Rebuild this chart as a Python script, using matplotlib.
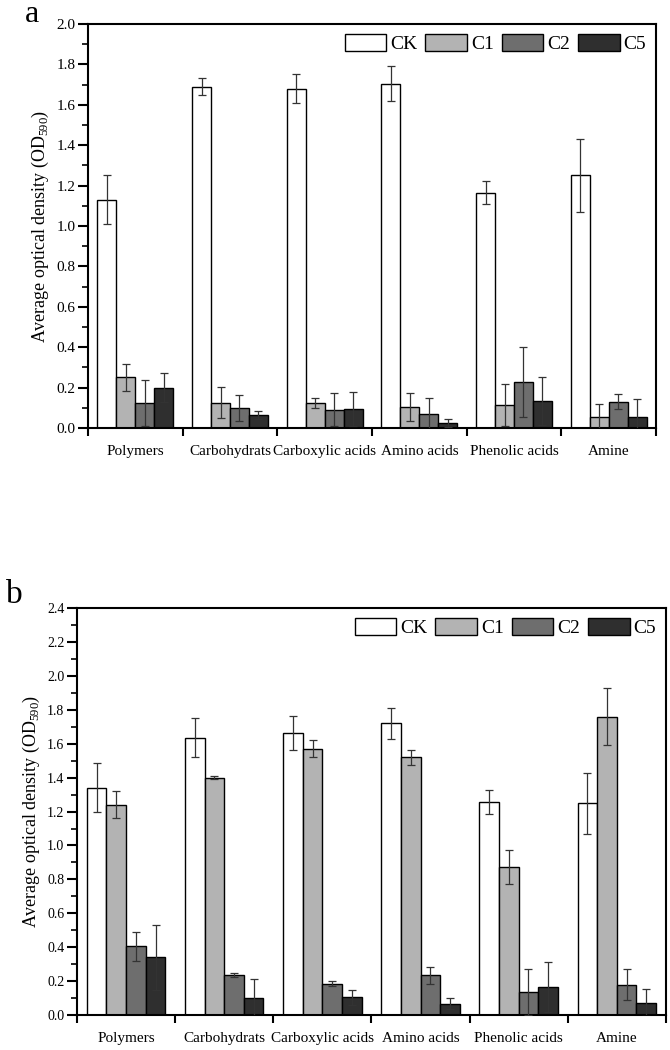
import numpy as np
import matplotlib
matplotlib.use("Agg")
import matplotlib.pyplot as plt
from matplotlib.ticker import MultipleLocator, FixedLocator, NullFormatter

plt.rcParams['font.family'] = ['Liberation Serif', 'DejaVu Serif']
plt.rcParams['mathtext.fontset'] = 'custom'
plt.rcParams['mathtext.rm'] = 'Liberation Serif'

categories = ["Polymers", "Carbohydrats", "Carboxylic acids", "Amino acids", "Phenolic acids", "Amine"]
treatments = ["CK", "C1", "C2", "C5"]
colors = ["#ffffff", "#b3b3b3", "#6e6e6e", "#2f2f2f"]

# panel a: means and errors
a_CK = [1.13, 1.69, 1.68, 1.705, 1.165, 1.25]
a_C1 = [0.25, 0.125, 0.125, 0.105, 0.115, 0.055]
a_C2 = [0.125, 0.10, 0.09, 0.07, 0.228, 0.13]
a_C5 = [0.20, 0.065, 0.095, 0.025, 0.133, 0.055]
a_CK_err = [0.12, 0.04, 0.07, 0.085, 0.058, 0.18]
a_C1_err = [0.068, 0.078, 0.025, 0.07, 0.105, 0.063]
a_C2_err = [0.113, 0.063, 0.082, 0.08, 0.172, 0.038]
a_C5_err = [0.07, 0.02, 0.085, 0.02, 0.12, 0.088]

# panel b
b_CK = [1.34, 1.635, 1.665, 1.72, 1.255, 1.25]
b_C1 = [1.24, 1.40, 1.57, 1.52, 0.875, 1.76]
b_C2 = [0.405, 0.235, 0.185, 0.235, 0.135, 0.18]
b_C5 = [0.34, 0.10, 0.105, 0.068, 0.165, 0.073]
b_CK_err = [0.145, 0.115, 0.10, 0.09, 0.07, 0.18]
b_C1_err = [0.08, 0.01, 0.05, 0.045, 0.10, 0.17]
b_C2_err = [0.085, 0.01, 0.015, 0.05, 0.135, 0.09]
b_C5_err = [0.19, 0.115, 0.045, 0.035, 0.145, 0.078]


def draw_panel(ax, vals, errs, ymax, ticksize):
    x = np.arange(len(categories))
    width = 0.2
    for j, (v, e) in enumerate(zip(vals, errs)):
        ax.bar(x - 0.3 + j * width, v, width, color=colors[j], edgecolor="black",
               linewidth=1.0, label=treatments[j], zorder=2)
        ax.errorbar(x - 0.3 + j * width, v, yerr=e, fmt="none", ecolor="#333333",
                    elinewidth=0.9, capsize=3.2, capthick=0.9, zorder=3)
    ax.set_xlim(-0.5, len(categories) - 0.5)
    ax.set_ylim(0, ymax)
    ax.yaxis.set_major_locator(MultipleLocator(0.2))
    ax.yaxis.set_minor_locator(MultipleLocator(0.1))
    ax.yaxis.set_major_formatter(matplotlib.ticker.FormatStrFormatter("%.1f"))
    ax.xaxis.set_major_locator(FixedLocator(np.arange(-0.5, len(categories), 1.0)))
    ax.xaxis.set_major_formatter(NullFormatter())
    ax.xaxis.set_minor_locator(FixedLocator(x))
    ax.set_xticklabels(categories, minor=True, fontsize=11)
    ax.tick_params(axis="x", which="major", direction="out", length=6, width=1.5)
    ax.tick_params(axis="x", which="minor", length=0, pad=12)
    ax.tick_params(axis="y", which="major", direction="out", length=7, width=1.5,
                   labelsize=ticksize, pad=2)
    ax.tick_params(axis="y", which="minor", direction="out", length=4, width=1.2)
    for s in ax.spines.values():
        s.set_linewidth(1.5)
    ax.set_ylabel("Average optical density (OD$_{590}$)", fontsize=13, labelpad=4)
    ax.legend(loc="upper right", ncol=4, frameon=False, fontsize=14,
              handlelength=2.15, handleheight=1.0, handletextpad=0.2,
              columnspacing=0.4, borderaxespad=0.3, borderpad=0.2)


fig = plt.figure(figsize=(6.7, 10.5), dpi=100)
ax_a = fig.add_axes([0.1313, 0.5924, 0.8478, 0.3848])
ax_b = fig.add_axes([0.1149, 0.0333, 0.879, 0.3876])

draw_panel(ax_a, [a_CK, a_C1, a_C2, a_C5], [a_CK_err, a_C1_err, a_C2_err, a_C5_err], 2.0, 11)
draw_panel(ax_b, [b_CK, b_C1, b_C2, b_C5], [b_CK_err, b_C1_err, b_C2_err, b_C5_err], 2.4, 10)

fig.text(0.037, 0.979, "a", fontsize=23, ha="left", va="baseline")
fig.text(0.009, 0.4257, "b", fontsize=24, ha="left", va="baseline")

fig.savefig("out.png", dpi=100)
